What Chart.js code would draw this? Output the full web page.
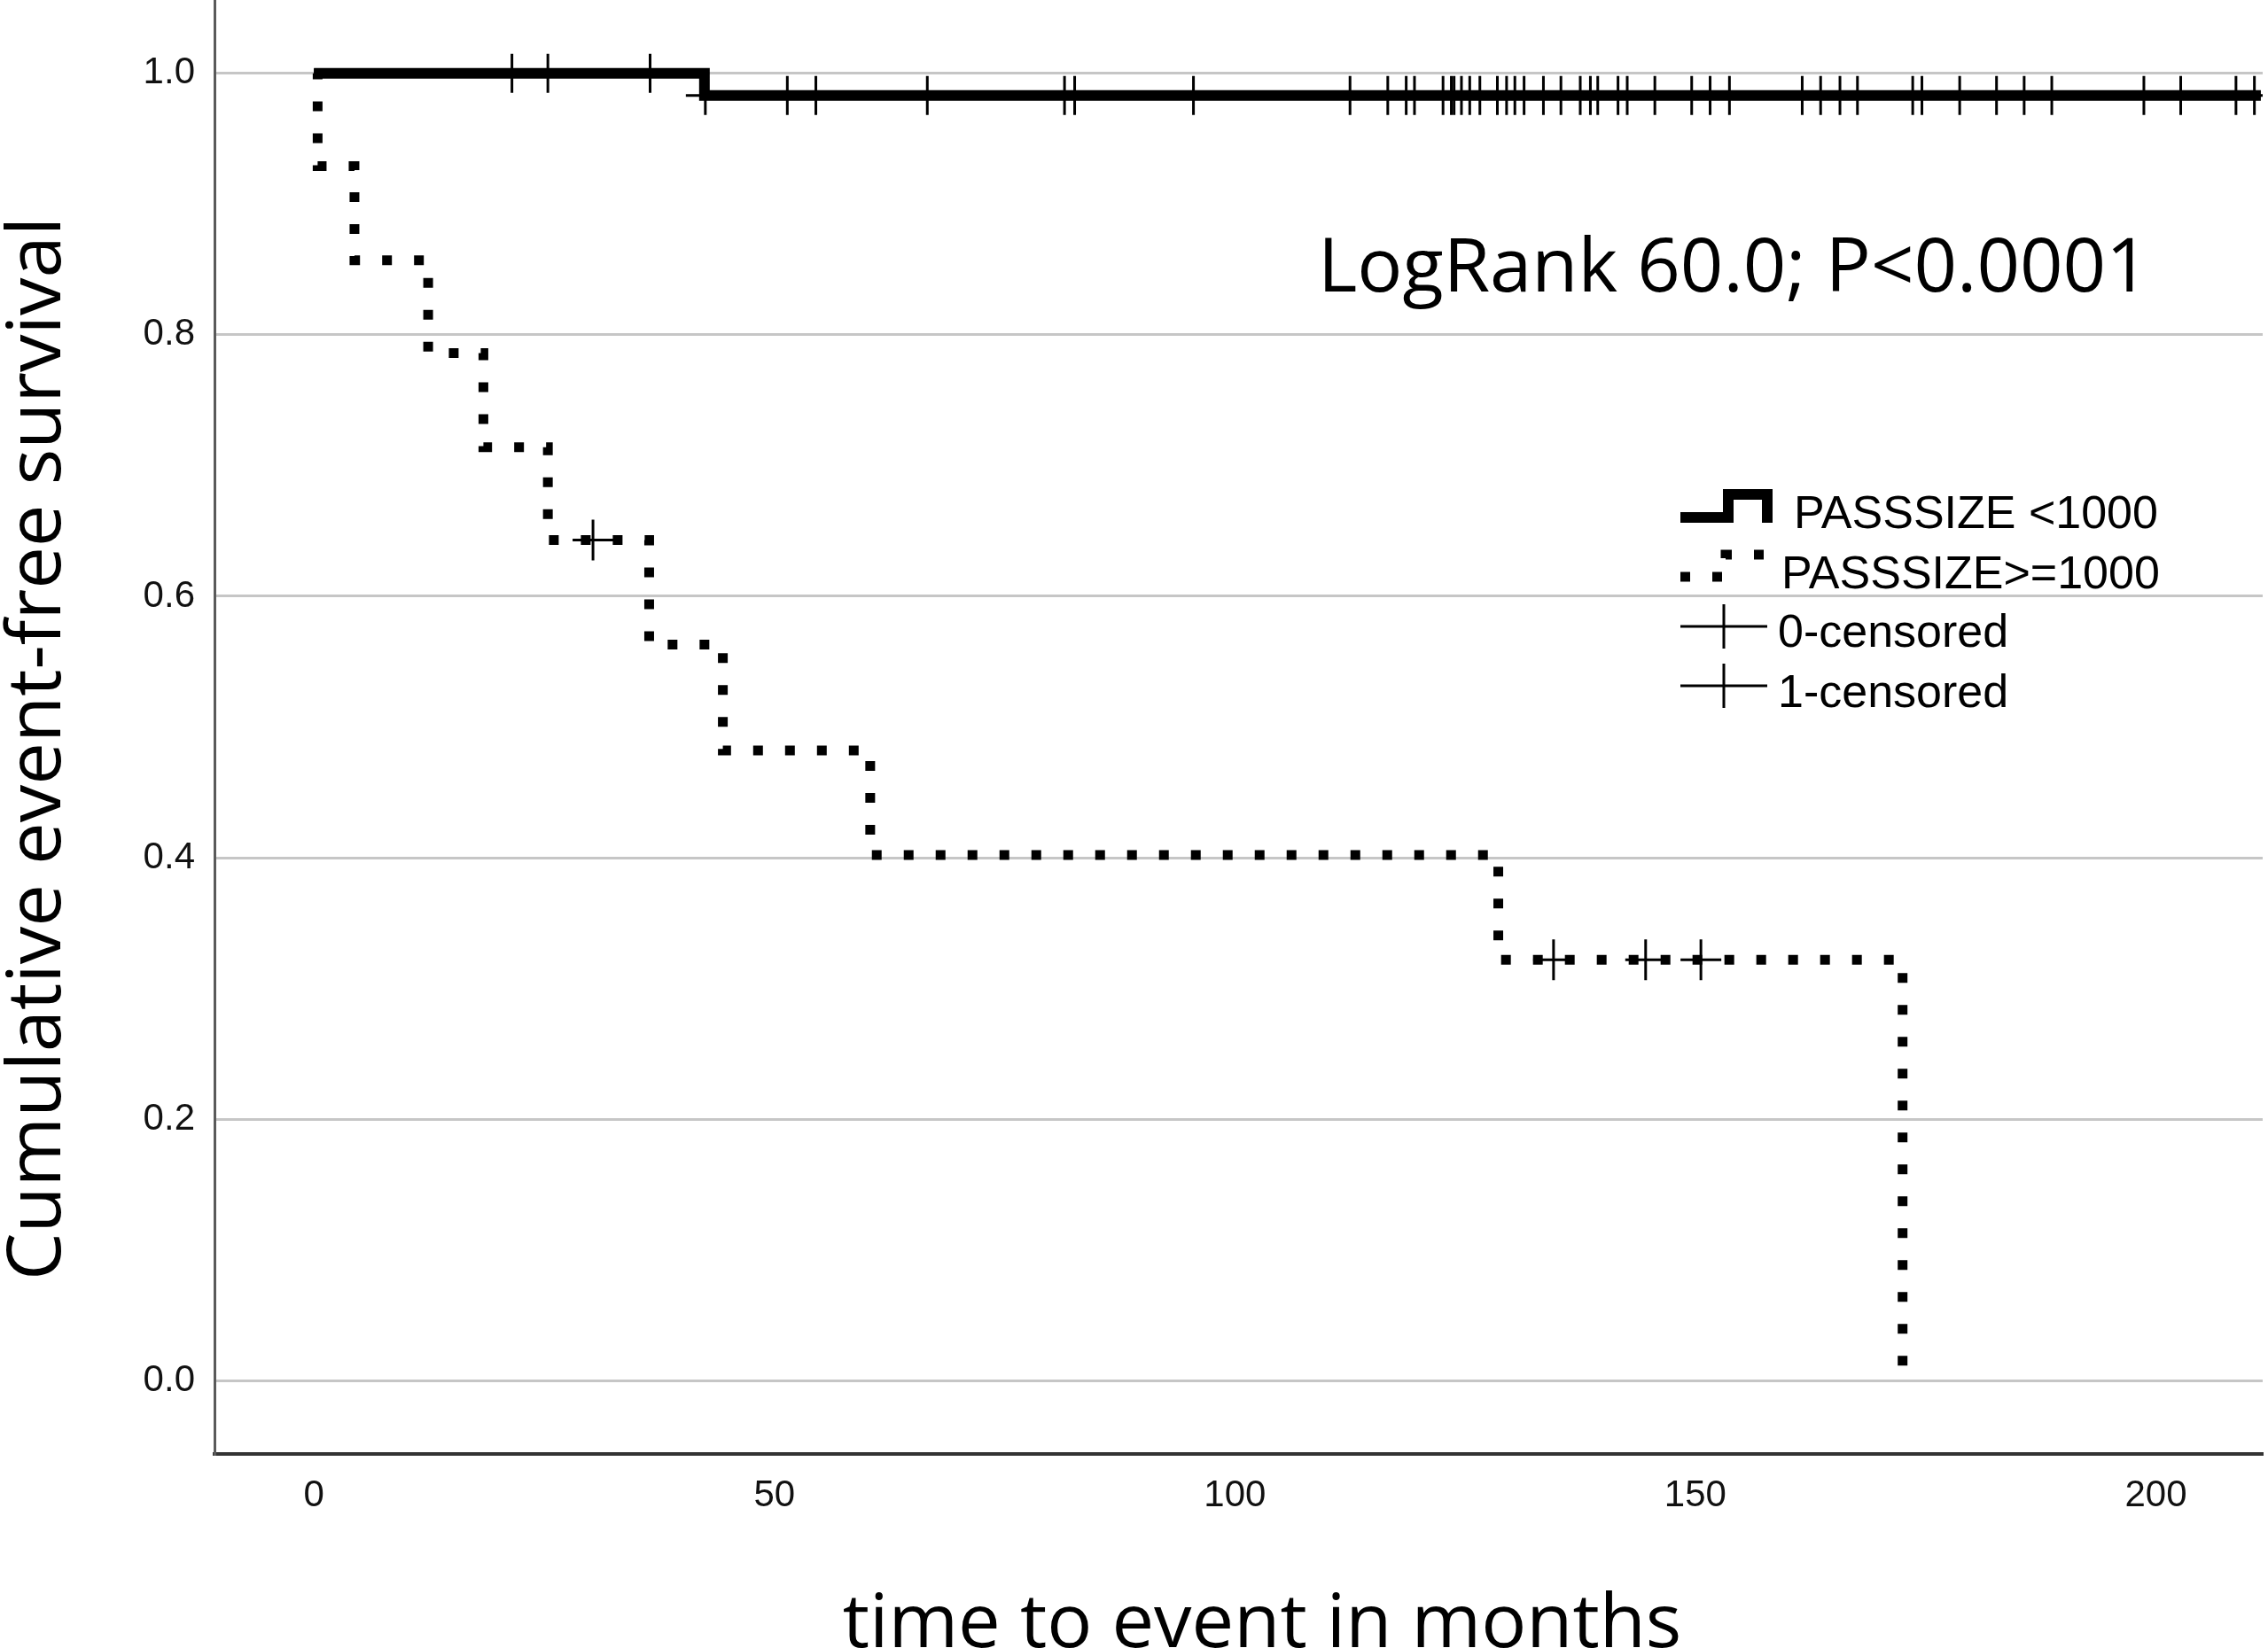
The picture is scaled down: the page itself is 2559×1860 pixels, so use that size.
<!DOCTYPE html>
<html>
<head>
<meta charset="utf-8">
<script src="https://cdn.jsdelivr.net/npm/chart.js@4.4.1/dist/chart.umd.min.js"></script>
<style>
  html, body { margin: 0; padding: 0; background: #fff; }
  #wrap { width: 2559px; height: 1860px; }
</style>
</head>
<body>
<div id="wrap"><canvas id="km" width="2559" height="1860"></canvas></div>
<script>
// Kaplan-Meier steps (months, cumulative event-free survival)
const smallTimes = [0, 42.4, 211.4];
const smallSurv = [1.0, 0.983, 0.983];
const smallCensored = [21.5, 25.4, 36.5, 42.5, 51.4, 54.5, 66.6, 81.5, 82.6, 95.5,
  112.5, 116.6, 118.6, 119.5, 122.6, 123.5, 123.8, 124.6, 125.5, 126.6, 128.5, 129.5,
  130.4, 131.4, 133.5, 135.4, 137.5, 138.6, 139.4, 141.6, 142.6, 145.6, 149.6, 151.6,
  153.7, 161.6, 163.6, 165.7, 167.6, 173.6, 174.6, 178.7, 182.7, 185.7, 188.7, 198.7,
  202.7, 208.7, 210.7];

const largeTimes = [0, 0.4, 4.4, 12.4, 18.4, 25.4, 36.4, 44.4, 60.4, 128.6, 172.5];
const largeSurv = [1.0, 0.929, 0.857, 0.786, 0.714, 0.643, 0.563, 0.482, 0.402, 0.322, 0.0];
const largeCensored = [30.3, 134.6, 144.6, 150.6];

const xTicks = [0, 50, 100, 150, 200];
const yTicks = [0, 0.2, 0.4, 0.6, 0.8, 1.0];
const legendLabels = ['PASSSIZE <1000', 'PASSSIZE>=1000', '0-censored', '1-censored'];
const statText = 'LogRank 60.0; P<0.0001';

// survival value of a step curve at time t
function survAt(times, surv, t) {
  let s = surv[0];
  for (let i = 0; i < times.length; i++) {
    if (t >= times[i]) s = surv[i];
  }
  return s;
}

const toPoints = (xs, ys) => xs.map((x, i) => ({ x: x, y: ys[i] }));
const censorPoints = (ts, times, surv) => ts.map(t => ({ x: t, y: survAt(times, surv, t) }));

// legend, stat text and axis titles drawn on top
const extras = {
  id: 'extras',
  afterDraw(chart) {
    const ctx = chart.ctx;
    ctx.save();
    ctx.fillStyle = '#000';
    ctx.strokeStyle = '#000';

    ctx.font = '85px "Open Sans"';
    ctx.textAlign = 'center';
    ctx.textBaseline = 'alphabetic';
    ctx.fillText('time to event in months', 1424, 1859);

    ctx.save();
    ctx.translate(68, 845);
    ctx.rotate(-Math.PI / 2);
    ctx.fillText('Cumulative event-free survival', 0, 0);
    ctx.restore();

    ctx.font = '85px "Open Sans"';
    ctx.textAlign = 'left';
    ctx.fillText(statText, 1487, 329);

    // legend symbols
    ctx.lineCap = 'butt';
    ctx.lineJoin = 'miter';
    ctx.lineWidth = 12;
    ctx.beginPath();
    ctx.moveTo(1896, 584); ctx.lineTo(1950, 584); ctx.lineTo(1950, 558);
    ctx.lineTo(1994, 558); ctx.lineTo(1994, 590);
    ctx.stroke();

    ctx.lineWidth = 11;
    ctx.setLineDash([11, 25]);
    ctx.beginPath();
    ctx.moveTo(1896, 651); ctx.lineTo(1947, 651); ctx.lineTo(1947, 626);
    ctx.lineTo(1994, 626); ctx.lineTo(1994, 640);
    ctx.stroke();
    ctx.setLineDash([]);

    ctx.lineWidth = 3;
    [707, 774].forEach(y => {
      ctx.beginPath();
      ctx.moveTo(1896, y); ctx.lineTo(1994, y);
      ctx.moveTo(1945, y - 25); ctx.lineTo(1945, y + 25);
      ctx.stroke();
    });

    ctx.font = '52px "Liberation Sans", Arial';
    ctx.fillText(legendLabels[0], 2024, 596);
    ctx.fillText(legendLabels[1], 2010, 664);
    ctx.fillText(legendLabels[2], 2006, 730);
    ctx.fillText(legendLabels[3], 2006, 798);
    ctx.restore();
  }
};

const tickFont = { family: '"Liberation Sans", Arial', size: 42 };

new Chart(document.getElementById('km').getContext('2d'), {
  type: 'line',
  data: {
    datasets: [
      {
        data: toPoints(largeTimes, largeSurv),
        stepped: 'before',
        borderColor: '#000',
        borderWidth: 11,
        borderDash: [11, 25],
        borderCapStyle: 'butt',
        pointRadius: 0,
        fill: false
      },
      {
        data: toPoints(smallTimes, smallSurv),
        stepped: 'before',
        borderColor: '#000',
        borderWidth: 12,
        borderCapStyle: 'butt',
        pointRadius: 0,
        fill: false
      },
      {
        data: censorPoints(smallCensored, smallTimes, smallSurv),
        showLine: false,
        pointStyle: 'cross',
        pointRadius: 22,
        pointBorderWidth: 3,
        borderColor: '#000'
      },
      {
        data: censorPoints(largeCensored, largeTimes, largeSurv),
        showLine: false,
        pointStyle: 'cross',
        pointRadius: 23,
        pointBorderWidth: 3,
        borderColor: '#000'
      }
    ]
  },
  options: {
    responsive: false,
    devicePixelRatio: 1,
    animation: false,
    events: [],
    layout: { autoPadding: false, padding: { top: 0, right: 6, bottom: 0, left: 0 } },
    scales: {
      x: {
        type: 'linear',
        min: -10.8,
        max: 211.6,
        afterBuildTicks: scale => { scale.ticks = xTicks.map(v => ({ value: v })); },
        afterFit: scale => {
          scale.height = 219;
          scale.paddingLeft = 0;
          scale.paddingRight = 0;
        },
        grid: { display: false, drawTicks: false },
        border: { display: true, color: '#333', width: 4 },
        ticks: { font: tickFont, color: '#111', padding: 22, maxRotation: 0 }
      },
      y: {
        min: -0.056,
        max: 1.056,
        afterBuildTicks: scale => { scale.ticks = yTicks.map(v => ({ value: v })); },
        afterFit: scale => {
          scale.width = 242;
          scale.paddingTop = 0;
          scale.paddingBottom = 0;
        },
        grid: { color: '#c6c6c6', lineWidth: 3, drawTicks: false },
        border: { display: true, color: '#5a5a5a', width: 3 },
        ticks: { font: tickFont, color: '#111', padding: 22, callback: v => v.toFixed(1) }
      }
    },
    plugins: {
      legend: { display: false },
      title: { display: false },
      tooltip: { enabled: false }
    }
  },
  plugins: [extras]
});
</script>
</body>
</html>
